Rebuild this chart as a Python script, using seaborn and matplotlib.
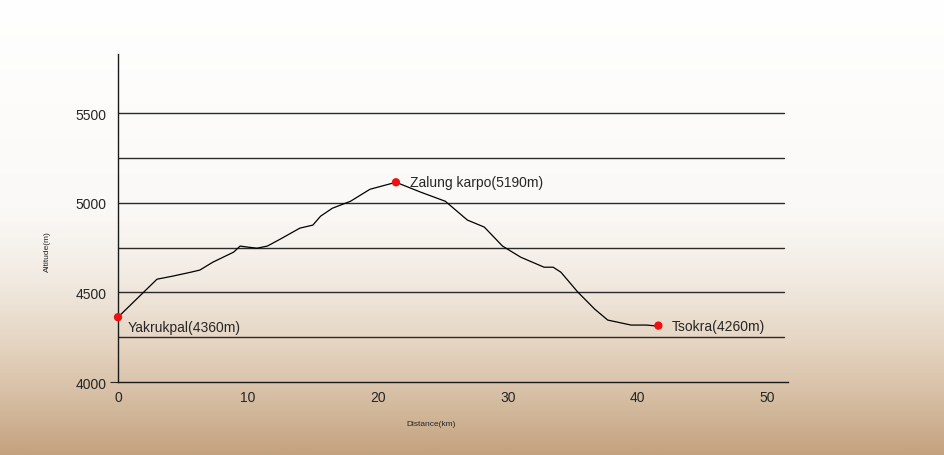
import numpy as np
import pandas as pd
import matplotlib.pyplot as plt
import seaborn as sns
from matplotlib.colors import LinearSegmentedColormap

# elevation profile
distance_km = [0, 3.0, 4.2, 5.6, 6.3, 7.3, 8.9, 9.4, 10.0, 10.7, 11.5, 12.5, 14.0, 15.0,
               15.6, 16.5, 17.9, 19.4, 21.4, 23.3, 25.2, 26.9, 28.2, 29.6, 31.0, 32.8,
               33.5, 34.1, 35.4, 36.7, 37.7, 39.5, 40.7, 41.6]
altitude_m = [4362, 4574, 4591, 4613, 4625, 4669, 4725, 4759, 4753, 4747, 4759, 4798, 4859, 4876,
              4926, 4970, 5009, 5076, 5115, 5060, 5009, 4904, 4865, 4759, 4697, 4641,
              4641, 4613, 4502, 4407, 4346, 4318, 4318, 4312]

place_names = ["Yakrukpal(4360m)", "Zalung karpo(5190m)", "Tsokra(4260m)"]
place_km = [0, 21.4, 41.6]
place_alt = [4362, 5115, 4315]

y_ticks = [4000, 4500, 5000, 5500]
x_ticks = [0, 10, 20, 30, 40, 50]
grid_levels = [4250, 4500, 4750, 5000, 5250, 5500]

profile = pd.DataFrame({"km": distance_km, "alt": altitude_m})
places = pd.DataFrame({"name": place_names, "km": place_km, "alt": place_alt})

sns.set_style("white")
plt.rcParams["font.family"] = ["Liberation Sans", "DejaVu Sans"]

fig = plt.figure(figsize=(9.44, 4.56), dpi=100)

# paper-like background gradient
bg = fig.add_axes([0, 0, 1, 1], zorder=0)
bg_cmap = LinearSegmentedColormap.from_list(
    "paper",
    [(0.0, "#ffffff"), (0.46, "#fbf9f7"), (0.62, "#f1eae1"),
     (0.76, "#e5d4c1"), (0.88, "#d5bda2"), (1.0, "#c4a27e")])
bg.imshow(np.linspace(0, 1, 256).reshape(-1, 1), aspect="auto", cmap=bg_cmap,
          extent=[0, 1, 0, 1], origin="upper")
bg.axis("off")

ax = fig.add_axes([0.125, 0.160, 0.71, 0.719], zorder=1)
ax.patch.set_alpha(0)

for lvl in grid_levels:
    ax.axhline(lvl, color="#2a2a2a", lw=1.0, xmax=0.994, zorder=1)

sns.lineplot(data=profile, x="km", y="alt", ax=ax, color="black", lw=0.9, zorder=2)
sns.scatterplot(data=places, x="km", y="alt", ax=ax, color="#ee1111", s=36,
                edgecolor="none", zorder=3, clip_on=False)

offsets = [(7, -7), (10, 0), (10, 0)]
for (_, row), (dx, dy) in zip(places.iterrows(), offsets):
    ax.annotate(row["name"], (row["km"], row["alt"]), xytext=(dx, dy),
                textcoords="offset points", fontsize=10, va="center", ha="left")

ax.set_xlim(0, 51.6)
ax.set_ylim(4000, 5830)
ax.set_xticks(x_ticks)
ax.set_yticks(y_ticks)
ax.tick_params(axis="x", length=0, pad=6, labelsize=10)
ax.tick_params(axis="y", length=6, pad=2, labelsize=10, width=0.8, left=True)
for i, t in enumerate(ax.yaxis.get_major_ticks()):
    t.tick1line.set_visible(i == 0)

for side in ["top", "right"]:
    ax.spines[side].set_visible(False)
for side in ["left", "bottom"]:
    ax.spines[side].set_color("#1a1a1a")
    ax.spines[side].set_linewidth(1.0)

ax.set_xlabel("Distance(km)", fontsize=6)
ax.set_ylabel("Altitude(m)", fontsize=6)
ax.xaxis.set_label_coords(0.467, -0.115)
ax.yaxis.set_label_coords(-0.1, 0.40)

fig.savefig("out.png", dpi=100)
